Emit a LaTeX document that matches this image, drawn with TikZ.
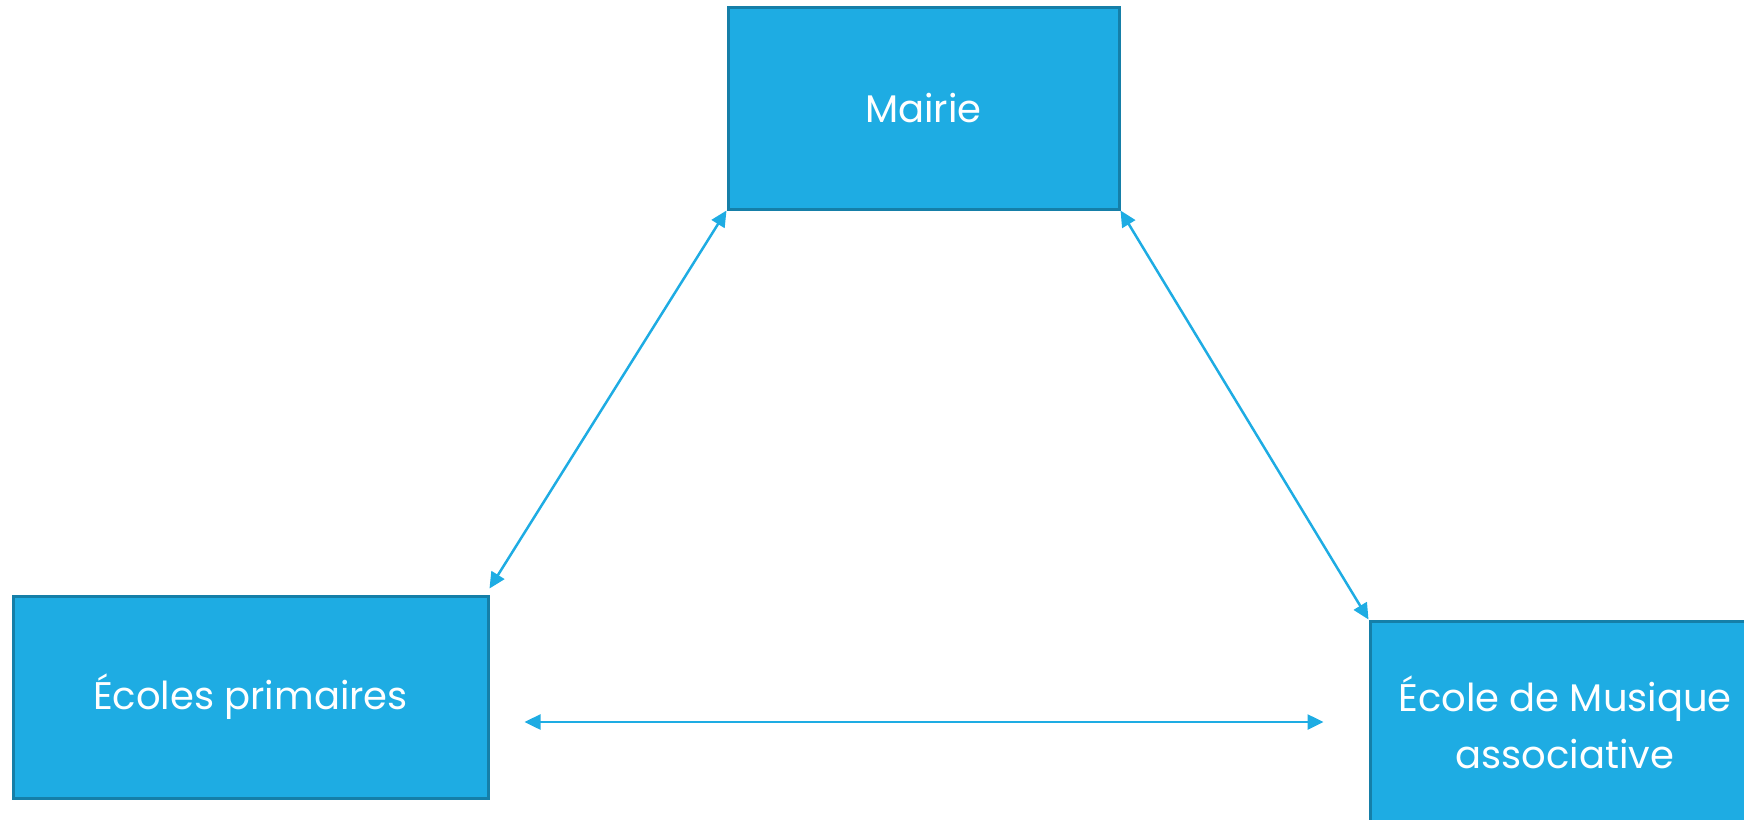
\documentclass[tikz,border=0pt]{standalone}
\usepackage{fontspec}
\setmainfont{Poppins}
\usetikzlibrary{arrows.meta,calc}
\definecolor{boxfill}{HTML}{1EACE3}
\definecolor{boxline}{HTML}{157FA8}
\begin{document}
\begin{tikzpicture}[x=1pt,y=-1pt,
  entity/.style={draw=boxline,line width=3pt,fill=boxfill,text=white,inner sep=0pt,
    minimum height=202pt,align=center,font=\fontsize{38.5}{57}\selectfont},
  link/.style={draw=boxfill,line width=2.5pt,{Triangle[length=16pt,width=15pt]}-{Triangle[length=16pt,width=15pt]}}]
\useasboundingbox (0,0) rectangle (1744,819);
\node[entity,minimum width=391pt] (mairie) at (923.5,108) {Mairie};
\node[entity,minimum width=475pt] (ecoles) at (250.5,697) {École\kern0pt s primaires};
\node[entity,minimum width=390pt] (musique) at (1565,722) {École de Musique\\associative};
\draw[link] (mairie.south west) -- ([yshift=6pt]ecoles.north east);
\draw[link] (mairie.south east) -- (musique.north west);
\draw[link] ($(ecoles.east)+(35,25)$) -- ($(musique.west)+(-45,0)$);
\end{tikzpicture}
\end{document}
